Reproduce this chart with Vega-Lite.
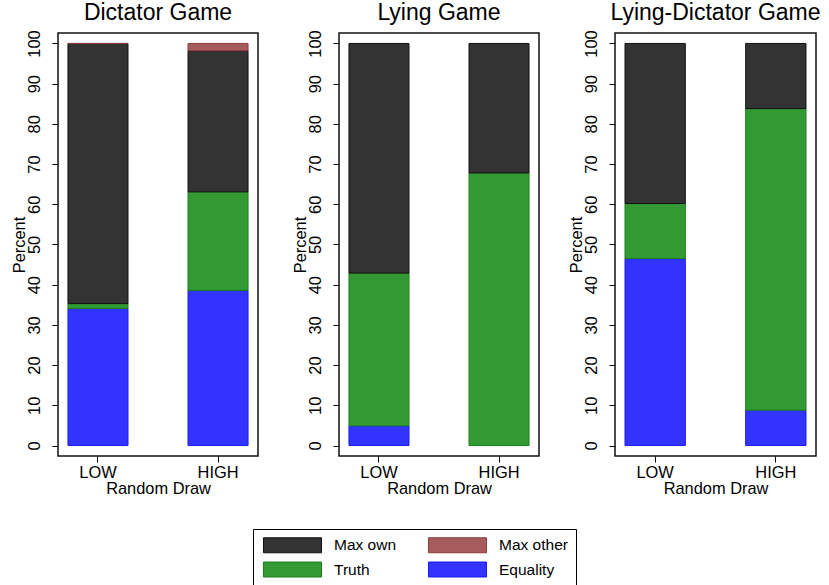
{
  "$schema": "https://vega.github.io/schema/vega-lite/v6.json",
  "padding": {"left": 10, "top": 1, "right": 5, "bottom": 5},
  "data": {"values": [
    {"game": "Dictator Game", "draw": "LOW", "choice": "Equality", "rank": 1, "pct": 34.1},
    {"game": "Dictator Game", "draw": "LOW", "choice": "Truth", "rank": 2, "pct": 1.2},
    {"game": "Dictator Game", "draw": "LOW", "choice": "Max own", "rank": 3, "pct": 64.7},
    {"game": "Dictator Game", "draw": "LOW", "choice": "Max other", "rank": 4, "pct": 0},
    {"game": "Dictator Game", "draw": "HIGH", "choice": "Equality", "rank": 1, "pct": 38.6},
    {"game": "Dictator Game", "draw": "HIGH", "choice": "Truth", "rank": 2, "pct": 24.5},
    {"game": "Dictator Game", "draw": "HIGH", "choice": "Max own", "rank": 3, "pct": 35.1},
    {"game": "Dictator Game", "draw": "HIGH", "choice": "Max other", "rank": 4, "pct": 1.8},
    {"game": "Lying Game", "draw": "LOW", "choice": "Equality", "rank": 1, "pct": 4.9},
    {"game": "Lying Game", "draw": "LOW", "choice": "Truth", "rank": 2, "pct": 38.0},
    {"game": "Lying Game", "draw": "LOW", "choice": "Max own", "rank": 3, "pct": 57.1},
    {"game": "Lying Game", "draw": "HIGH", "choice": "Truth", "rank": 2, "pct": 67.8},
    {"game": "Lying Game", "draw": "HIGH", "choice": "Max own", "rank": 3, "pct": 32.2},
    {"game": "Lying-Dictator Game", "draw": "LOW", "choice": "Equality", "rank": 1, "pct": 46.5},
    {"game": "Lying-Dictator Game", "draw": "LOW", "choice": "Truth", "rank": 2, "pct": 13.7},
    {"game": "Lying-Dictator Game", "draw": "LOW", "choice": "Max own", "rank": 3, "pct": 39.8},
    {"game": "Lying-Dictator Game", "draw": "HIGH", "choice": "Equality", "rank": 1, "pct": 8.8},
    {"game": "Lying-Dictator Game", "draw": "HIGH", "choice": "Truth", "rank": 2, "pct": 75.0},
    {"game": "Lying-Dictator Game", "draw": "HIGH", "choice": "Max own", "rank": 3, "pct": 16.2}
  ]},
  "spacing": 32,
  "hconcat": [
    {
      "title": "Dictator Game",
      "width": 200, "height": 423,
      "transform": [{"filter": "datum.game === 'Dictator Game'"}],
      "mark": {"type": "bar", "strokeWidth": 1},
      "encoding": {
        "x": {"field": "draw", "type": "nominal", "sort": ["LOW", "HIGH"], "scale": {"paddingInner": 0.5, "paddingOuter": 0.083}, "axis": {"title": "Random Draw"}},
        "y": {"field": "pct", "type": "quantitative", "stack": "zero", "scale": {"domain": [-2.6, 102.6], "nice": false, "zero": false}, "axis": {"title": "Percent", "values": [0, 10, 20, 30, 40, 50, 60, 70, 80, 90, 100]}},
        "color": {"field": "choice", "type": "nominal", "scale": {"domain": ["Max own", "Truth", "Max other", "Equality"], "range": ["#333333", "#339933", "#a65c5c", "#3333ff"]}},
        "stroke": {"field": "choice", "type": "nominal", "scale": {"domain": ["Max own", "Truth", "Max other", "Equality"], "range": ["#111111", "#1a801a", "#8c3c3c", "#1a1aee"]}},
        "order": {"field": "rank"}
      }
    },
    {
      "spacing": 27,
      "hconcat": [
        {
          "title": "Lying Game",
          "width": 200, "height": 423,
          "transform": [{"filter": "datum.game === 'Lying Game'"}],
          "mark": {"type": "bar", "strokeWidth": 1},
          "encoding": {
            "x": {"field": "draw", "type": "nominal", "sort": ["LOW", "HIGH"], "scale": {"paddingInner": 0.5, "paddingOuter": 0.083}, "axis": {"title": "Random Draw"}},
            "y": {"field": "pct", "type": "quantitative", "stack": "zero", "scale": {"domain": [-2.6, 102.6], "nice": false, "zero": false}, "axis": {"title": "Percent", "values": [0, 10, 20, 30, 40, 50, 60, 70, 80, 90, 100]}},
            "color": {"field": "choice", "type": "nominal", "scale": {"domain": ["Max own", "Truth", "Max other", "Equality"], "range": ["#333333", "#339933", "#a65c5c", "#3333ff"]}},
            "stroke": {"field": "choice", "type": "nominal", "scale": {"domain": ["Max own", "Truth", "Max other", "Equality"], "range": ["#111111", "#1a801a", "#8c3c3c", "#1a1aee"]}},
            "order": {"field": "rank"}
          }
        },
        {
          "title": "Lying-Dictator Game",
          "width": 201, "height": 423,
          "transform": [{"filter": "datum.game === 'Lying-Dictator Game'"}],
          "mark": {"type": "bar", "strokeWidth": 1},
          "encoding": {
            "x": {"field": "draw", "type": "nominal", "sort": ["LOW", "HIGH"], "scale": {"paddingInner": 0.5, "paddingOuter": 0.083}, "axis": {"title": "Random Draw"}},
            "y": {"field": "pct", "type": "quantitative", "stack": "zero", "scale": {"domain": [-2.6, 102.6], "nice": false, "zero": false}, "axis": {"title": "Percent", "values": [0, 10, 20, 30, 40, 50, 60, 70, 80, 90, 100]}},
            "color": {"field": "choice", "type": "nominal", "scale": {"domain": ["Max own", "Truth", "Max other", "Equality"], "range": ["#333333", "#339933", "#a65c5c", "#3333ff"]}, "legend": {"orient": "none", "legendX": 195, "legendY": 496, "columns": 2, "title": null}},
            "stroke": {"field": "choice", "type": "nominal", "scale": {"domain": ["Max own", "Truth", "Max other", "Equality"], "range": ["#111111", "#1a801a", "#8c3c3c", "#1a1aee"]}, "legend": {"orient": "none", "legendX": 195, "legendY": 496, "columns": 2, "title": null}},
            "order": {"field": "rank"}
          }
        }
      ]
    }
  ],
  "config": {
    "font": "Liberation Sans",
    "view": {"stroke": "#111111", "strokeWidth": 1.5},
    "title": {"fontSize": 23, "fontWeight": "normal", "color": "#000000", "offset": 5},
    "axis": {
      "domain": false, "grid": false, "tickColor": "#000000", "tickSize": 6, "tickWidth": 1,
      "labelFontSize": 16.4, "labelColor": "#000000", "titleFontSize": 16.4, "titleFontWeight": "normal", "titleColor": "#000000"
    },
    "axisX": {"labelAngle": 0, "labelPadding": 2, "titlePadding": 0},
    "axisY": {"labelAngle": -90, "labelPadding": 10, "titlePadding": -1},
    "legend": {
      "strokeColor": "#000000", "padding": 8, "columnPadding": 29, "rowPadding": 4.5,
      "symbolType": "M-3.87,-1H3.87V1H-3.87Z", "symbolSize": 225, "symbolStrokeWidth": 1, "symbolOpacity": 1,
      "symbolOffset": 23.5,
      "labelFontSize": 15.5, "labelColor": "#000000", "labelOffset": 33.5, "labelLimit": 200
    }
  }
}
